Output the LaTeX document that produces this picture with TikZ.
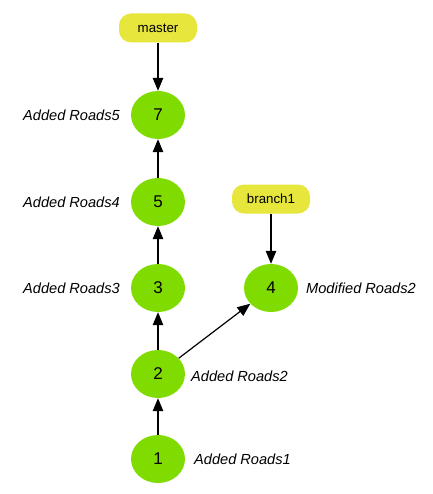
\documentclass[tikz,border=0pt]{standalone}
\usepackage{fontspec}
\setmainfont{Liberation Sans}
\usetikzlibrary{arrows.meta,shapes.geometric}
\definecolor{cgreen}{RGB}{128,220,0}
\definecolor{cyellow}{RGB}{230,230,60}
\begin{document}
\begin{tikzpicture}[x=1pt,y=-1pt,
  commit/.style={ellipse,fill=cgreen,minimum width=54pt,minimum height=48pt,inner sep=0pt,font=\fontsize{17}{19}\selectfont},
  ref/.style={rounded corners=12pt,fill=cyellow,minimum width=78pt,minimum height=29pt,inner sep=0pt,font=\fontsize{13.3}{15}\selectfont},
  msg/.style={font=\fontsize{14.6}{17}\selectfont\itshape,inner sep=0pt},
  arr/.style={line width=1.2pt,-{Triangle[length=13pt,width=10.5pt]}}]
\useasboundingbox (0,0) rectangle (432,494);
\node[commit] (c1) at (158,459) {1};
\node[commit] (c2) at (158,374) {2};
\node[commit] (c3) at (158,288) {3};
\node[commit] (c5) at (158,202) {5};
\node[commit] (c7) at (158,115) {7};
\node[commit] (c4) at (271,288) {4};
\node[ref] (master) at (158,28) {master};
\node[ref] (branch) at (271,199) {branch1};
\node[msg,anchor=east] (l7) at (120,115) {Added Roads5};
\node[msg,anchor=east] (l5) at (120,202) {Added Roads4};
\node[msg,anchor=east] (l3) at (120,288) {Added Roads3};
\node[msg,anchor=west] (l2) at (191,376) {Added Roads2};
\node[msg,anchor=west] (l1) at (194,459) {Added Roads1};
\node[msg,anchor=west] (l4) at (306,288) {Modified Roads2};
\draw[arr] (master) -- (c7);
\draw[arr] (branch) -- (c4);
\draw[arr] (c1) -- (c2);
\draw[arr] (c2) -- (c3);
\draw[arr] (c3) -- (c5);
\draw[arr] (c5) -- (c7);
\draw[arr] (c2) -- (c4);
\end{tikzpicture}
\end{document}
